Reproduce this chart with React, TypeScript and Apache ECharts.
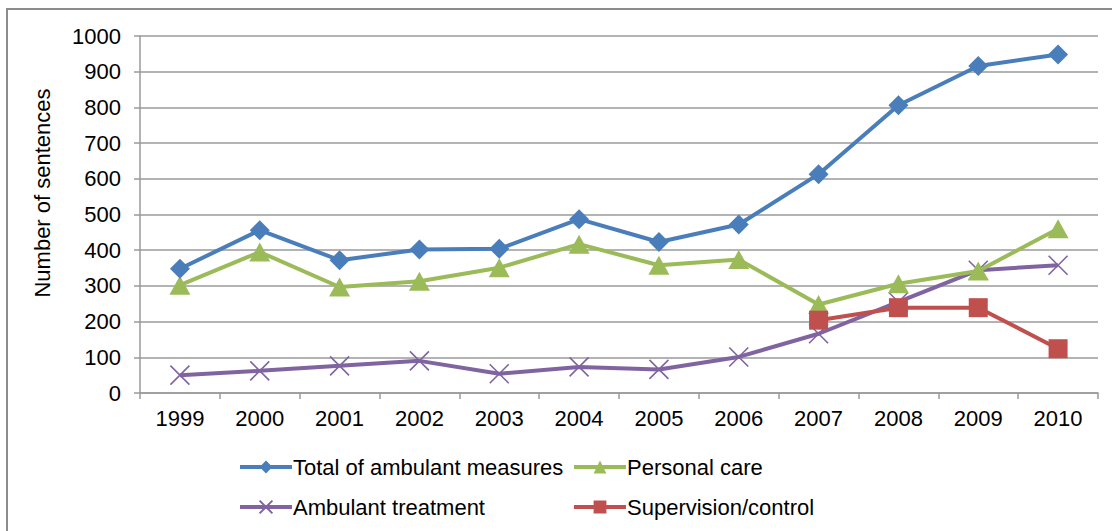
import React, { useEffect, useRef } from "react";
import * as echarts from "echarts";

const years = ["1999", "2000", "2001", "2002", "2003", "2004", "2005", "2006", "2007", "2008", "2009", "2010"];
const totalAmbulant = [348, 456, 372, 402, 404, 487, 423, 472, 613, 806, 916, 948];
const personalCare = [302, 395, 297, 313, 351, 417, 358, 374, 248, 306, 342, 460];
const ambulantTreatment = [50, 62, 76, 90, 54, 73, 66, 101, 166, 255, 344, 358];
const supervisionControl = [null, null, null, null, null, null, null, null, 204, 239, 239, 124];

const seriesNames = ["Total of ambulant measures", "Personal care", "Ambulant treatment", "Supervision/control"];
const colors = ["#4A7EBB", "#9BBB59", "#8064A2", "#C0504D"];
const yAxisTitle = "Number of sentences";

const FONT = "Liberation Sans, Arial, sans-serif";
const FS = 22;

export default function App() {
  const ref = useRef<HTMLDivElement>(null);
  useEffect(() => {
    if (!ref.current) return;
    const chart = echarts.init(ref.current, undefined, { renderer: "svg" });
    const legendBase = {
      itemWidth: 52,
      itemHeight: 16,
      itemGap: 0,
      padding: 0,
      lineStyle: { width: 4 },
      textStyle: { fontFamily: FONT, fontSize: FS, color: "#000", padding: [0, 0, 0, -4] },
    };
    chart.setOption({
      animation: false,
      backgroundColor: "#fff",
      color: colors,
      graphic: [
        {
          type: "rect",
          shape: { x: 7, y: 9, width: 1130, height: 560 },
          style: { fill: "none", stroke: "#8c8c8c", lineWidth: 2 },
          silent: true,
        },
        {
          type: "text",
          x: 42,
          y: 193,
          rotation: Math.PI / 2,
          style: {
            text: yAxisTitle,
            fontFamily: FONT,
            fontSize: FS,
            fill: "#000",
            align: "center",
            verticalAlign: "middle",
          },
          silent: true,
        },
      ],
      grid: { left: 140, right: 14, top: 36, bottom: 138 },
      legend: [
        { ...legendBase, left: 238, top: 456, data: [seriesNames[0]] },
        { ...legendBase, left: 572, top: 456, data: [seriesNames[1]] },
        { ...legendBase, left: 238, top: 496, data: [seriesNames[2]] },
        { ...legendBase, left: 572, top: 496, data: [seriesNames[3]] },
      ],
      xAxis: {
        type: "category",
        data: years,
        boundaryGap: true,
        axisLine: { show: true, lineStyle: { color: "#9a9a9a", width: 1.5 } },
        axisTick: { show: true, length: 6, lineStyle: { color: "#9a9a9a", width: 1.5 } },
        axisLabel: { fontFamily: FONT, fontSize: FS, color: "#000", margin: 14 },
      },
      yAxis: {
        type: "value",
        min: 0,
        max: 1000,
        interval: 100,
        axisLine: { show: true, lineStyle: { color: "#9a9a9a", width: 1.5 } },
        axisTick: { show: true, length: 6, lineStyle: { color: "#9a9a9a", width: 1.5 } },
        splitLine: { show: true, lineStyle: { color: "#9a9a9a", width: 1.5 } },
        axisLabel: {
          fontFamily: FONT,
          fontSize: FS,
          color: "#000",
          margin: 19,
          formatter: (v: number) => String(v),
        },
      },
      series: [
        {
          name: seriesNames[0],
          type: "line",
          data: totalAmbulant,
          symbol: "diamond",
          symbolSize: 20,
          lineStyle: { width: 4, color: colors[0] },
          itemStyle: { color: colors[0] },
          z: 4,
        },
        {
          name: seriesNames[1],
          type: "line",
          data: personalCare,
          symbol: "triangle",
          symbolSize: [21, 19],
          lineStyle: { width: 4, color: colors[1] },
          itemStyle: { color: colors[1] },
          z: 3,
        },
        {
          name: seriesNames[2],
          type: "line",
          data: ambulantTreatment,
          symbol: "path://M0,0L10,10M10,0L0,10",
          symbolSize: 19,
          lineStyle: { width: 4, color: colors[2] },
          itemStyle: { color: colors[2], borderColor: colors[2], borderWidth: 1.6 },
          z: 2,
        },
        {
          name: seriesNames[3],
          type: "line",
          data: supervisionControl,
          symbol: "rect",
          symbolSize: 19,
          connectNulls: false,
          lineStyle: { width: 4, color: colors[3] },
          itemStyle: { color: colors[3] },
          z: 5,
        },
      ],
    });
    return () => chart.dispose();
  }, []);
  return <div ref={ref} style={{ position: "fixed", left: 0, top: 0, width: 1112, height: 531 }} />;
}
